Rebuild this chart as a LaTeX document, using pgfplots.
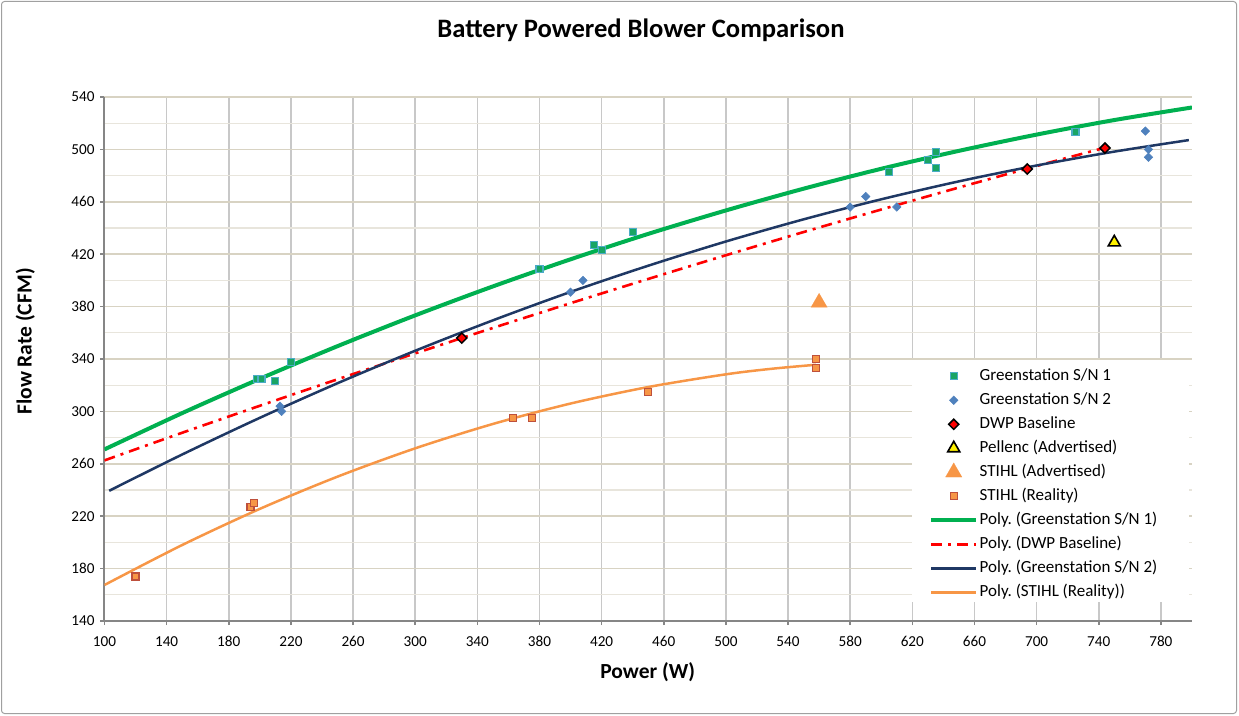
\documentclass[border=0pt]{standalone}
\usepackage{pgfplots}
\pgfplotsset{compat=1.18}
\usepackage{fontspec}
\setmainfont{Carlito}
\frenchspacing
\definecolor{gsfill}{RGB}{25,165,100}
\definecolor{gsedge}{RGB}{75,172,198}
\definecolor{gstwo}{RGB}{79,129,189}
\definecolor{stihl}{RGB}{247,150,70}
\definecolor{stihledge}{RGB}{190,80,60}
\definecolor{trgreen}{RGB}{0,176,80}
\definecolor{trnavy}{RGB}{31,56,100}
\definecolor{axgray}{RGB}{134,134,134}
\definecolor{vgrid}{RGB}{200,200,200}
\definecolor{hgridmaj}{RGB}{216,211,195}
\definecolor{hgridmin}{RGB}{232,229,220}
\definecolor{frame}{RGB}{160,160,160}
\pgfplotsset{
  marklegend/.style={legend image code/.code={\path[draw=none,fill=none] (0pt,0pt) -- (45pt,0pt); \path[##1,draw=none,only marks,mark repeat=2,mark phase=2] plot coordinates {(0pt,0pt) (22.5pt,0pt) (45pt,0pt)};}},
}
\begin{document}
\begin{tikzpicture}
\useasboundingbox (0pt,0pt) rectangle (1239pt,715pt);
\draw[frame, line width=1pt, rounded corners=3pt] (1.5pt,1.5pt) rectangle (1236.5pt,713.5pt);
\node[anchor=base, font=\fontsize{26.6}{31}\selectfont\bfseries] at (641pt,677.5pt) {Battery Powered Blower Comparison};
\begin{axis}[
  at={(104.5pt,94pt)}, anchor=south west,
  scale only axis, width=1087.5pt, height=524pt,
  xmin=100, xmax=800, ymin=140, ymax=540,
  xtick={100,140,...,780}, ytick={140,180,...,540},
  minor y tick num=1,
  axis x line*=bottom, axis y line*=left,
  axis line style={axgray, line width=2pt},
  tick align=outside, major tick length=4pt, minor tick length=0pt,
  tick style={axgray, line width=1.5pt},
  xmajorgrids, ymajorgrids, yminorgrids,
  major x grid style={vgrid, line width=1.5pt},
  major y grid style={hgridmaj, line width=1.5pt},
  minor y grid style={hgridmin, line width=1.2pt},
  /pgf/number format/assume math mode=true,
  ticklabel style={font=\fontsize{15.2}{18}\selectfont},
  xticklabel style={yshift=-8pt},
  yticklabel style={xshift=-2.5pt},
  xlabel={Power (W)}, ylabel={Flow Rate (CFM)},
  xlabel style={at={(axis description cs:0.4995,-0.1088)}, anchor=base, font=\fontsize{21.5}{25}\selectfont\bfseries},
  ylabel style={at={(axis description cs:-0.0671,0.5334)}, anchor=base, rotate=0, font=\fontsize{21.5}{25}\selectfont\bfseries},
  legend cell align=left,
  legend image code/.code={\path (0pt,0pt) -- (45pt,0pt); \draw[mark repeat=2,mark phase=2,#1] plot coordinates {(0pt,0pt) (22.5pt,0pt) (45pt,0pt)};},
  legend style={at={(rel axis cs:0.7426,0.496)}, anchor=north west, draw=none, fill=none,
    inner xsep=17pt, inner ysep=3pt, row sep=0pt, column sep=1.5pt,
    font=\fontsize{17}{20}\selectfont,
    nodes={inner sep=0pt, text height=16.5pt, text depth=7.5pt}},
]
\fill[white] (rel axis cs:0.7426,0.498) rectangle (rel axis cs:0.9977,0.0363);
% trend lines
\addplot[trgreen, line width=4pt, smooth, forget plot] coordinates {(100,271) (150,298.7) (200,324.9) (250,349.8) (300,373.3) (350,395.4) (400,416.1) (450,435.5) (500,453.4) (550,470.0) (600,485.2) (650,498.9) (700,511.3) (750,522.4) (800,532.0)};
\addplot[red, line width=2.6pt, dash pattern=on 11pt off 6pt on 3pt off 6pt, smooth, forget plot] coordinates {(100,262.6) (150,283.7) (200,304.3) (250,324.5) (300,344.3) (350,363.7) (400,382.6) (450,401.1) (500,419.2) (550,436.9) (600,454.1) (650,470.9) (700,487.3) (745,501.6)};
\addplot[trnavy, line width=2.5pt, smooth, forget plot] coordinates {(103,239.4) (150,267.1) (200,295.1) (250,321.5) (300,346.3) (350,369.5) (400,391.2) (450,411.2) (500,429.7) (550,446.6) (600,461.9) (650,475.6) (700,487.7) (750,498.3) (798,507.1)};
\addplot[stihl, line width=2.5pt, smooth, forget plot] coordinates {(100,167.5) (150,198.0) (200,225.6) (250,250.2) (300,271.8) (350,290.4) (400,306.0) (450,318.6) (500,328.3) (530,332.6) (558,335.6)};
% scatter series
\addplot[marklegend, only marks, mark=square*, mark size=3.5pt, mark options={fill=gsfill, draw=gsedge, line width=1.2pt}] coordinates {(198,325) (201,325) (210,323) (220,338) (380,409) (415,427) (420,423) (440,437) (605,483) (630,492) (635,498) (635,486) (725,513)};
\addlegendentry{Greenstation S/N 1}
\addplot[marklegend, only marks, mark=square*, mark size=3pt, mark options={fill=gstwo, draw=gstwo, line width=0.5pt, rotate=45}] coordinates {(213,304) (214,300) (400,391) (408,400) (580,456) (590,464) (610,456) (770,514) (772,500) (772,494)};
\addlegendentry{Greenstation S/N 2}
\addplot[marklegend, only marks, mark=square*, mark size=3.6pt, mark options={fill=red, draw=black, line width=1.5pt, rotate=45}] coordinates {(330,356) (694,485) (744,501)};
\addlegendentry{DWP Baseline}
\addplot[marklegend, only marks, mark=triangle*, mark size=7pt, mark options={fill=yellow, draw=black, line width=1.6pt}] coordinates {(750,429)};
\addlegendentry{Pellenc (Advertised)}
\addplot[marklegend, only marks, mark=triangle*, mark size=9.5pt, mark options={fill=stihl, draw=stihl, line width=0.1pt}] coordinates {(560,383)};
\addlegendentry{STIHL (Advertised)}
\addplot[marklegend, only marks, mark=square*, mark size=3.5pt, mark options={fill=stihl, draw=stihledge, line width=1.2pt}] coordinates {(120,174) (194,227) (196,230) (363,295) (375,295) (450,315) (558,340) (558,333)};
\addlegendentry{STIHL (Reality)}
\addlegendimage{trgreen, line width=4pt}
\addlegendentry{Poly. (Greenstation S/N 1)}
\addlegendimage{red, line width=2.6pt, dash pattern=on 11pt off 6pt on 3pt off 6pt}
\addlegendentry{Poly. (DWP Baseline)}
\addlegendimage{trnavy, line width=2.5pt}
\addlegendentry{Poly. (Greenstation S/N 2)}
\addlegendimage{stihl, line width=2.5pt}
\addlegendentry{Poly. (STIHL (Reality))}
\end{axis}
\end{tikzpicture}
\end{document}
